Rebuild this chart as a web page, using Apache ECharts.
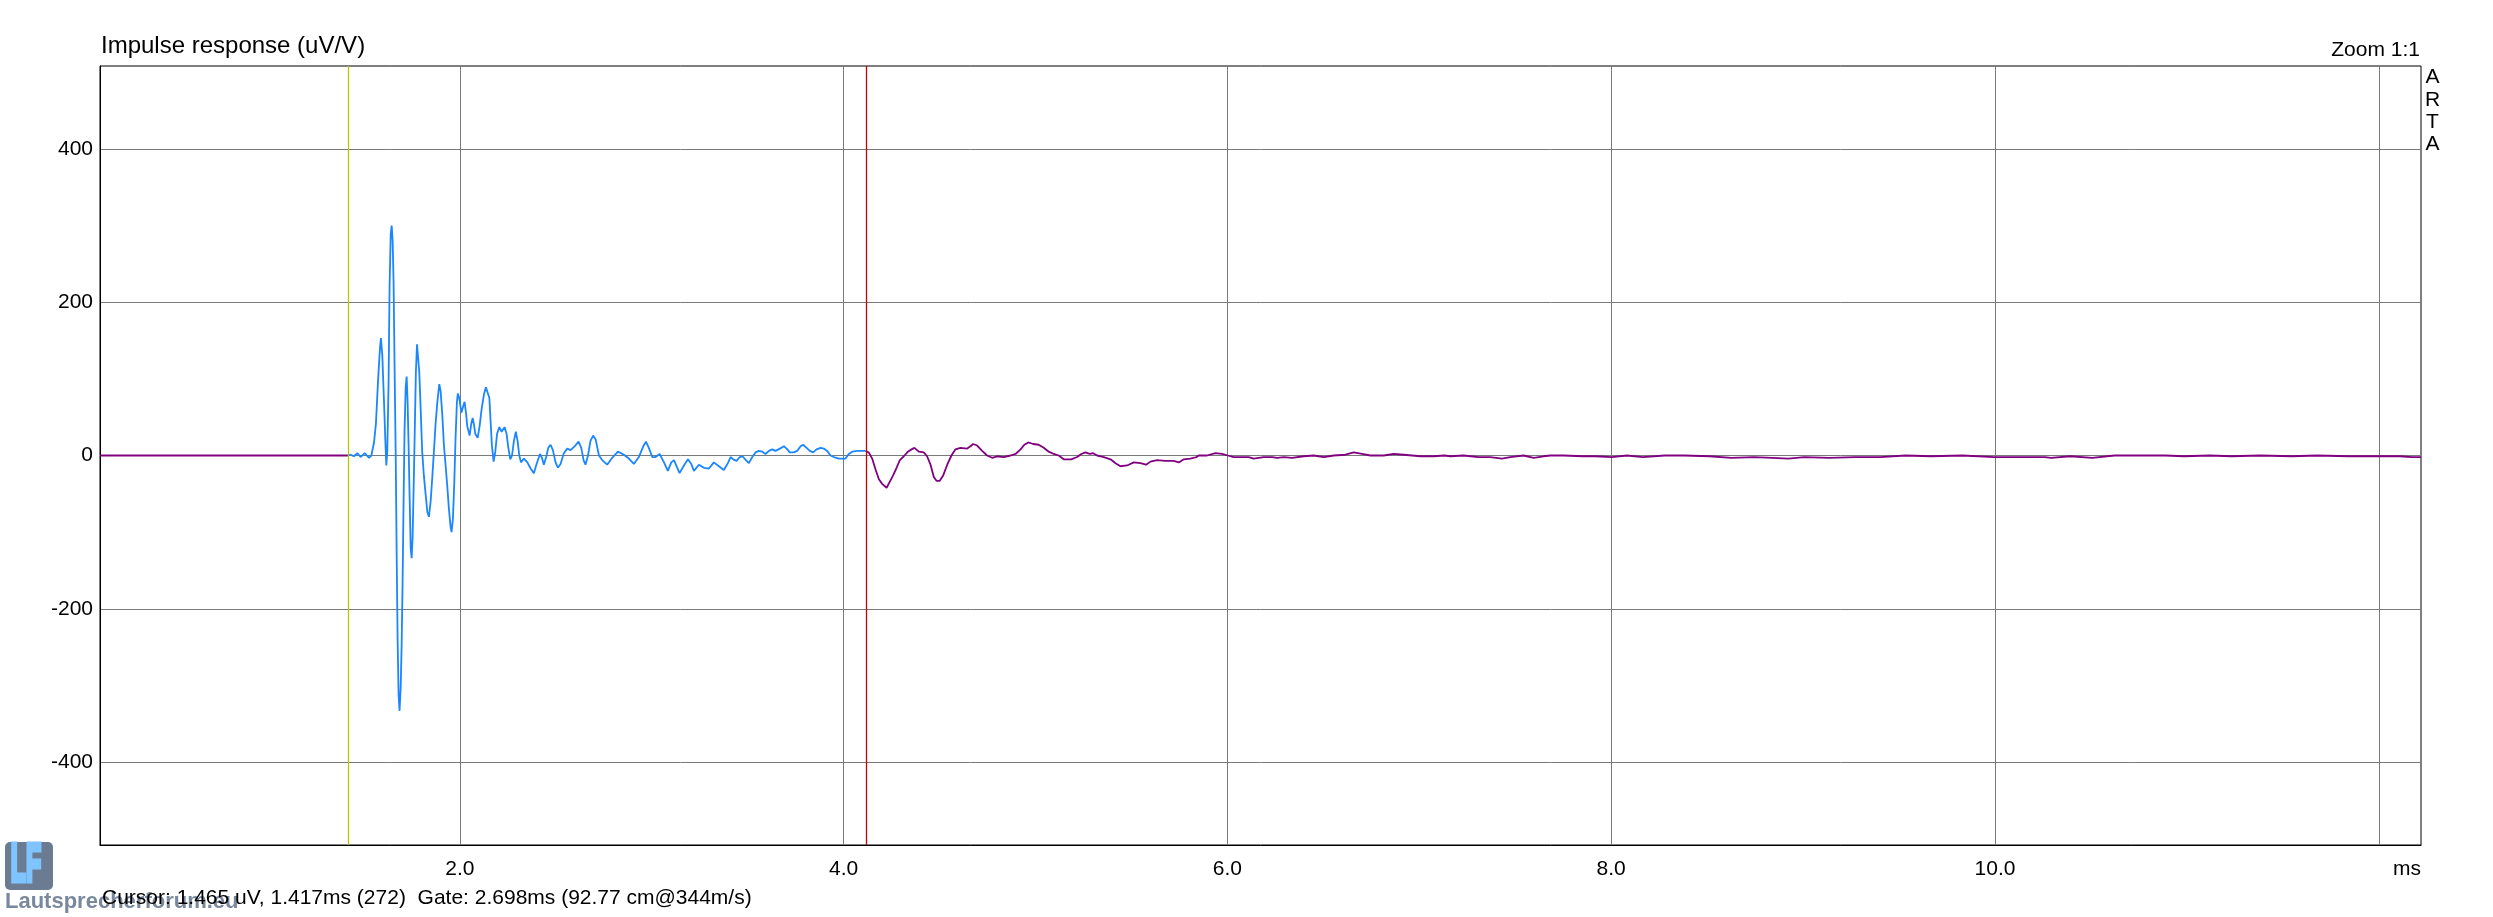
<!DOCTYPE html>
<html>
<head>
<meta charset="utf-8">
<script src="https://cdn.jsdelivr.net/npm/echarts@6/dist/echarts.min.js"></script>
<style>
html,body{margin:0;padding:0;background:#fff;}
#chart{width:2493px;height:917px;}
</style>
</head>
<body>
<div id="chart"></div>
<script>
// ---- data (time in ms, amplitude in uV/V) ----
const timesMs = [
0.125,1.417,1.431,1.448,1.466,1.483,1.504,1.527,1.539,1.553,1.563,1.574,1.584,1.589,1.596,1.605,1.612,1.617,1.622,1.629,
1.634,1.640,1.645,1.650,1.655,1.660,1.666,1.671,1.676,1.681,1.686,1.692,1.697,1.702,1.707,1.712,1.718,1.723,1.728,1.733,
1.739,1.744,1.749,1.754,1.761,1.766,1.771,1.777,1.782,1.789,1.796,1.804,1.813,1.822,1.831,1.839,1.848,1.857,1.865,1.874,
1.883,1.893,1.900,1.909,1.917,1.926,1.935,1.943,1.952,1.957,1.964,1.971,1.978,1.985,1.990,1.997,2.004,2.009,2.016,2.025,
2.032,2.039,2.051,2.060,2.067,2.074,2.081,2.093,2.103,2.114,2.126,2.136,2.145,2.154,2.161,2.167,2.176,2.185,2.194,2.206,
2.218,2.233,2.244,2.253,2.263,2.272,2.282,2.292,2.301,2.310,2.319,2.334,2.352,2.369,2.386,2.400,2.418,2.428,2.438,2.450,
2.461,2.473,2.485,2.499,2.511,2.525,2.542,2.560,2.577,2.598,2.619,2.633,2.645,2.655,2.668,2.681,2.695,2.708,2.725,2.742,
2.768,2.794,2.824,2.855,2.881,2.907,2.933,2.956,2.970,2.985,3.003,3.020,3.041,3.064,3.084,3.102,3.116,3.145,3.168,3.189,
3.206,3.220,3.246,3.272,3.298,3.324,3.350,3.376,3.397,3.411,3.425,3.442,3.459,3.473,3.491,3.506,3.524,3.541,3.558,3.576,
3.593,3.611,3.628,3.645,3.668,3.689,3.703,3.720,3.741,3.758,3.776,3.789,3.807,3.824,3.841,3.859,3.880,3.897,3.914,3.932,
3.949,3.975,4.010,4.027,4.045,4.071,4.097,4.115,4.131,4.149,4.166,4.184,4.201,4.224,4.241,4.258,4.276,4.293,4.314,4.335,
4.354,4.369,4.392,4.418,4.435,4.453,4.470,4.484,4.501,4.519,4.540,4.562,4.583,4.609,4.644,4.661,4.675,4.696,4.722,4.748,
4.774,4.800,4.835,4.870,4.896,4.922,4.942,4.962,4.988,5.017,5.043,5.069,5.095,5.121,5.147,5.186,5.217,5.239,5.260,5.283,
5.300,5.321,5.339,5.356,5.391,5.417,5.443,5.477,5.512,5.547,5.576,5.599,5.634,5.677,5.720,5.747,5.773,5.807,5.839,5.851,
5.894,5.938,5.972,6.002,6.033,6.076,6.111,6.137,6.189,6.233,6.259,6.294,6.337,6.398,6.450,6.502,6.554,6.615,6.658,6.702,
6.745,6.815,6.867,6.919,7.006,7.075,7.130,7.162,7.231,7.309,7.370,7.431,7.474,7.544,7.596,7.648,7.683,7.752,7.851,7.917,
8.003,8.082,8.165,8.280,8.379,8.511,8.627,8.742,8.841,8.923,9.006,9.138,9.270,9.402,9.534,9.666,9.831,9.996,10.128,10.260,
10.293,10.392,10.507,10.623,10.722,10.887,10.985,11.118,11.233,11.381,11.547,11.678,11.843,12.008,12.107,12.173,12.220
];
const valuesUV = [
0,0,1,-1,3,-2,3,-3,0,17,42,98,140,153,131,70,19,-13,5,98,
220,289,300,280,224,117,0,-130,-242,-312,-333,-302,-246,-163,-60,33,89,103,70,14,
-60,-121,-134,-107,-23,42,108,145,147,108,61,5,-27,-51,-74,-80,-60,-27,5,42,
70,93,84,52,14,-13,-41,-69,-93,-100,-83,-37,24,70,81,75,63,56,63,70,
56,38,26,42,49,40,28,23,38,61,80,89,90,75,42,14,-8,5,28,37,
31,37,28,10,-5,0,19,31,19,0,-9,-4,-9,-17,-23,-11,2,-3,-12,-2,
10,14,7,-9,-16,-11,3,9,7,12,18,10,-6,-12,0,19,26,21,0,-6,
-12,-3,5,1,-4,-11,-2,12,18,10,-2,-2,2,-9,-20,-9,-6,-23,-13,-5,
-11,-20,-12,-16,-17,-9,-14,-19,-10,-2,-5,-7,-2,-1,-6,-10,-2,4,6,5,
2,6,8,6,9,12,9,4,4,6,12,14,10,6,4,8,10,9,6,0,
-2,-4,-4,2,5,6,6,6,4,-4,-18,-31,-37,-42,-34,-26,-16,-6,-1,5,
8,10,5,4,-1,-12,-28,-33,-33,-26,-12,0,8,10,9,12,15,13,6,0,
-3,-1,-2,0,2,8,14,17,15,14,10,5,2,0,-5,-5,-2,2,4,2,
3,0,-1,-2,-5,-10,-14,-13,-9,-10,-12,-8,-6,-7,-7,-9,-5,-4,-2,0,
0,3,2,0,-2,-2,-2,-4,-2,-2,-3,-2,-3,-1,0,-2,0,1,4,2,
0,0,2,1,-1,-1,0,-1,0,-2,-2,-4,-2,0,-3,-1,0,0,-1,-1,
-2,0,-2,0,0,-1,-3,-2,-3,-4,-2,-3,-2,-2,0,-1,0,-2,-2,-2,
-3,-1,-3,0,0,0,-1,0,-1,0,-1,0,-1,-1,-1,-2,-2
];
const cursorMs = 1.417;      // yellow cursor
const gateEndMs = 4.115;     // red gate end (cursor + 2.698 ms)
const xTicks = [2, 4, 6, 8, 10, 12];
const xTickLabels = [2, 4, 6, 8, 10];
const yTicks = [-400, -200, 0, 200, 400];
const titleText = 'Impulse response (uV/V)';
const zoomText = 'Zoom 1:1';
const footerText = 'Cursor: 1.465 uV, 1.417ms (272)  Gate: 2.698ms (92.77 cm@344m/s)';

// ---- build series from arrays ----
const pre = [], inside = [], post = [];
for (let i = 0; i < timesMs.length; i++) {
  const t = timesMs[i], v = valuesUV[i];
  if (t <= cursorMs) pre.push([t, v]);
  if (t >= gateEndMs) post.push([t, v]);
  if (t >= cursorMs && t <= gateEndMs) inside.push([t, v]);
}

const FONT = '"Liberation Sans", Arial, sans-serif';
const chart = echarts.init(document.getElementById('chart'), null, {renderer: 'canvas'});

function txt(text, x, y, size, align, vAlign, extra) {
  return Object.assign({
    type: 'text', x: x, y: y, silent: true,
    style: Object.assign({
      text: text, fill: '#000',
      font: size + 'px ' + FONT,
      align: align, verticalAlign: vAlign,
      textAlign: align, textVerticalAlign: vAlign
    }, (extra && extra.style) || {})
  }, (extra && extra.el) || {});
}

chart.setOption({
  animation: false,
  backgroundColor: '#fff',
  grid: {left: 100, top: 66, right: 72, bottom: 72, show: true, borderColor: '#000', borderWidth: 1, backgroundColor: 'transparent'},
  xAxis: {
    type: 'value', min: 0.125, max: 12.22,
    axisLine: {show: true, onZero: false, lineStyle: {color: '#000', width: 1}},
    axisTick: {show: false, customValues: xTicks},
    axisLabel: {customValues: xTickLabels, formatter: v => v.toFixed(1), color: '#000', fontSize: 21, fontFamily: FONT, margin: 14},
    splitLine: {show: true, lineStyle: {color: '#7A7A7A', width: 1}}
  },
  yAxis: {
    type: 'value', min: -508, max: 508,
    axisLine: {show: true, lineStyle: {color: '#000', width: 1}},
    axisTick: {show: false, customValues: yTicks},
    axisLabel: {customValues: yTicks, color: '#000', fontSize: 21, fontFamily: FONT, margin: 7},
    splitLine: {show: true, lineStyle: {color: '#7A7A7A', width: 1}}
  },
  series: [
    {type: 'line', data: pre, showSymbol: false, symbol: 'none', lineStyle: {color: '#800080', width: 1.8}, z: 3},
    {type: 'line', data: post, showSymbol: false, symbol: 'none', lineStyle: {color: '#800080', width: 1.8}, z: 3},
    {type: 'line', data: inside, showSymbol: false, symbol: 'none', lineStyle: {color: '#1A86FF', width: 1.8}, z: 4,
      markLine: {
        silent: true, symbol: 'none', label: {show: false}, animation: false,
        data: [
          {xAxis: cursorMs, lineStyle: {color: '#C4C000', width: 1.3, type: 'solid'}},
          {xAxis: gateEndMs, lineStyle: {color: '#C80000', width: 1.3, type: 'solid'}}
        ]
      }
    }
  ],
  graphic: [
    txt(titleText, 101, 46, 24, 'left', 'middle'),
    txt(zoomText, 2420, 50, 21, 'right', 'middle'),
    txt('A\nR\nT\nA', 2432.5, 111, 21, 'center', 'middle', {style: {lineHeight: 22.4}}),
    txt('ms', 2421, 869, 21, 'right', 'middle'),
    {type: 'rect', shape: {x: 5, y: 842, width: 48, height: 48, r: 5}, style: {fill: '#6B7B92'}, silent: true, z: 1},
    txt('LF', 26, 866, 54, 'center', 'middle', {style: {fill: '#80C4FF', font: 'bold 54px ' + FONT, stroke: '#80C4FF', lineWidth: 5}, el: {scaleX: 0.46, originX: 0, originY: 0, z: 2}}),
    txt('Lautsprecherforum.eu', 5, 902, 22, 'left', 'middle', {style: {fill: '#6B7B92', font: 'bold 22px ' + FONT, opacity: 0.9}, el: {z: 2}}),
    txt(footerText, 102, 898, 21, 'left', 'middle', {el: {z: 10}})
  ]
});
</script>
</body>
</html>
